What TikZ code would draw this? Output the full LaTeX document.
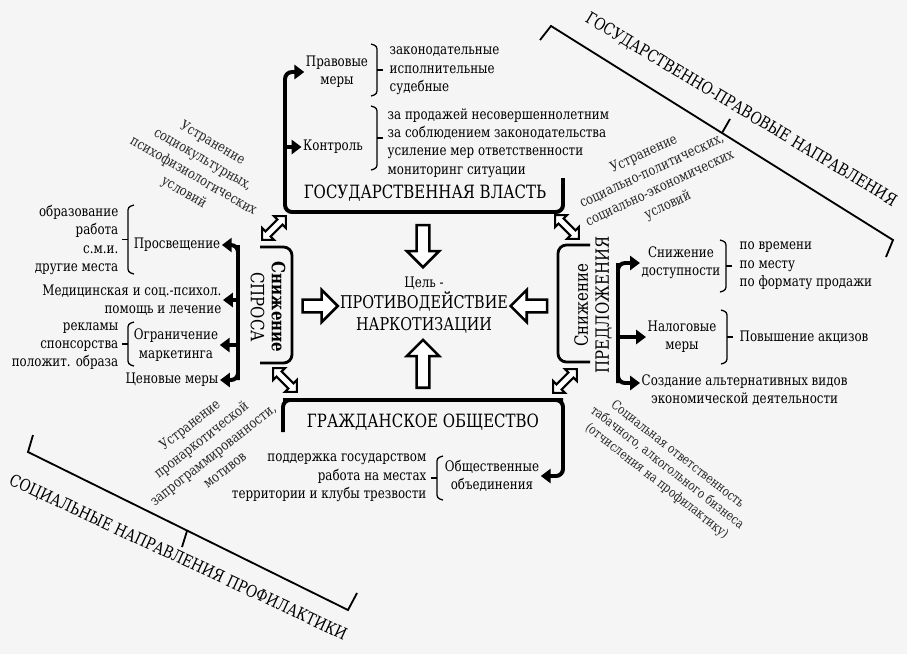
\documentclass[tikz,border=0pt]{standalone}
\usepackage{fontspec}
\setmainfont{DejaVu Serif}[FakeStretch=0.82]
\usetikzlibrary{arrows.meta,shapes.arrows}

\newcommand{\itemsz}{\fontsize{10.3}{13}\selectfont}
\newcommand{\diagsz}{\fontsize{10}{13.5}\selectfont}
\newcommand{\capsz}{\fontsize{13}{15}\selectfont}
\newcommand{\goalsz}{\fontsize{12.5}{15}\selectfont}
\newcommand{\titlesz}{\fontsize{11.8}{14}\selectfont}

% thin braces: x, top y, bottom y
\newcommand{\rbrk}[3]{%
  \draw[brk] (#1-6,#2) -- (#1,#2+2) -- (#1,#3-2) -- (#1-6,#3);
  \draw[brk] (#1,{(#2+#3)/2}) -- ++(6,0);}
\newcommand{\lbrk}[3]{%
  \draw[brk] (#1+6,#2) -- (#1,#2+2) -- (#1,#3-2) -- (#1+6,#3);
  \draw[brk] (#1,{(#2+#3)/2}) -- ++(-6,0);}

\begin{document}
\begin{tikzpicture}[x=0.025cm, y=-0.025cm,
    txt/.style={font=\itemsz, inner sep=1pt},
    capt/.style={font=\capsz, inner sep=1pt},
    diag/.style={font=\diagsz, align=center, inner sep=0pt, text=black!85},
    thk/.style={line width=2.8pt, rounded corners=5pt},
    thkarr/.style={line width=2.8pt, rounded corners=5pt, -{Triangle[length=7pt,width=10pt]}},
    brk/.style={line width=0.9pt, rounded corners=2pt},
    hbrk/.style={line width=2pt, rounded corners=6pt},
    bigbrk/.style={line width=1.3pt},
    blockarr/.style={single arrow, draw, fill=white, line width=1.8pt, inner sep=3.6pt,
      single arrow head extend=7pt},
    dblarr/.style={double arrow, draw, fill=white, line width=1.5pt, inner sep=1.8pt,
      double arrow head extend=3.5pt, minimum height=24pt}]
    \useasboundingbox[fill=black!4] (0,0) rectangle (907,654);

    % Goal
    \node[font=\goalsz, inner sep=1pt, align=center] (goal) at (424,305) {{\itemsz Цель -}\\ПРОТИВОДЕЙСТВИЕ\\НАРКОТИЗАЦИИ};

    % Four sides
    \node[capt] (gov) at (425,193) {ГОСУДАРСТВЕННАЯ ВЛАСТЬ};
    \node[capt] (civ) at (423,422) {ГРАЖДАНСКОЕ ОБЩЕСТВО};
    \node[capt, rotate=-90, align=center] (spros) at (268,307) {{\bfseries Снижение}\\СПРОСА};
    \node[capt, rotate=90, align=center] (pred) at (593,305) {Снижение\\ПРЕДЛОЖЕНИЯ};

    % Block arrows to the goal
    \node[blockarr, minimum height=30pt, rotate=-90] (aTop) at (423,243) {};
    \node[blockarr, minimum height=34pt, rotate=90] (aBot) at (423,367) {};
    \node[blockarr, minimum height=25pt] (aLeft) at (317,306) {};
    \node[blockarr, minimum height=26pt, rotate=180] (aRight) at (532,306) {};

    % Corner double arrows
    \node[dblarr, rotate=45] (dTL) at (274,228) {};
    \node[dblarr, rotate=-45] (dTR) at (567,227) {};
    \node[dblarr, rotate=-45] (dBL) at (285,380) {};
    \node[dblarr, rotate=45] (dBR) at (565,381) {};

    % State power
    \node[txt, align=center] (pravo) at (337,72) {Правовые\\меры};
    \node[txt] (kontrol) at (333,147) {Контроль};
    \rbrk{377}{44}{96}
    \rbrk{377}{106}{170}
    \node[txt, anchor=west, align=left] (pravoL) at (388,71) {законодательные\\исполнительные\\судебные};
    \node[txt, anchor=west, align=left] (kontrolL) at (386,143) {за продажей несовершеннолетним\\за соблюдением законодательства\\усиление мер ответственности\\мониторинг ситуации};
    \coordinate (gL) at (285,212);
    \coordinate (gR) at (563,212);
    \draw[thkarr] (563,178) -- (gR) -- (gL) -- (gL |- pravo) -- (pravo);
    \draw[thkarr] (gL |- kontrol) -- (kontrol);

    % Demand
    \draw[hbrk] (260,247) -- (292,247) -- (292,363) -- (260,363);
    \node[txt] (prosv) at (177,245) {Просвещение};
    \lbrk{128}{205}{274}
    \node[txt, anchor=east, align=right] (prosvL) at (120,240) {образование\\работа\\с.м.и.\\другие места};
    \node[txt, anchor=east, align=right] (med) at (223,300) {Медицинская и соц.-психол.\\помощь и лечение};
    \node[txt, align=center] (ogr) at (176,345) {Ограничение\\маркетинга};
    \lbrk{128}{322}{366}
    \node[txt, anchor=east, align=right] (ogrL) at (120,346) {рекламы\\спонсорства\\положит. образа};
    \node[txt] (cen) at (172,380) {Ценовые меры};
    \coordinate (sT) at (238,245);
    \coordinate (sB) at (238,380);
    \draw[thkarr] (sB) -- (sT) -- (prosv);
    \draw[thkarr] (sT) -- (sB) -- (cen);
    \foreach \n in {med, ogr}
        \draw[thkarr] (sT |- \n) -- (\n);

    % Supply
    \draw[hbrk] (590,245) -- (558,245) -- (558,362) -- (590,362);
    \node[txt, align=center] (dost) at (681,263) {Снижение\\доступности};
    \rbrk{726}{240}{292}
    \node[txt, anchor=west, align=left] (dostL) at (738,266) {по времени\\по месту\\по формату продажи};
    \node[txt, align=center] (nalog) at (682,337) {Налоговые\\меры};
    \rbrk{727}{310}{364}
    \node[txt, anchor=west] (akciz) at (738,337) {Повышение акцизов};
    \node[txt, anchor=west, align=center] (sozd) at (640,390) {Создание альтернативных видов\\экономической деятельности};
    \coordinate (pT) at (618,263);
    \coordinate (pB) at (618,383);
    \draw[thkarr] (pB) -- (pT) -- (dost);
    \draw[thkarr] (pT) -- (pB) -- (pB -| sozd.west);
    \draw[thkarr] (pT |- nalog) -- (nalog);

    % Civil society
    \node[txt, align=center] (obed) at (492,476) {Общественные\\объединения};
    \lbrk{437}{456}{500}
    \node[txt, anchor=east, align=right] (obedL) at (428,478) {поддержка государством\\работа на местах\\территории и клубы трезвости};
    \coordinate (cL) at (283,400);
    \coordinate (cR) at (563,400);
    \draw[thk] (283,432) -- (cL) -- (cR);
    \draw[thkarr] (cL) -- (cR) -- (cR |- obed) -- (obed);

    % Diagonal notes
    \node[diag, rotate=-30] (uTL) at (198,168) {Устранение\\социокультурных,\\психофизиологических\\условий};
    \node[diag, rotate=25] (uTR) at (656,180) {Устранение\\социально-политических,\\социально-экономических\\условий};
    \node[diag, rotate=38] (uBL) at (207,447) {Устранение\\пронаркотической\\запрограммированности,\\мотивов};
    \node[diag, rotate=-38, font=\fontsize{9.3}{12}\selectfont] (uBR) at (667,468) {Социальная ответственность\\табачного, алкогольного бизнеса\\(отчисления на профилактику)};

    % Big brackets
    \draw[bigbrk] (540,40) -- (551,26) -- (893,240) -- (886,257);
    \draw[bigbrk] (722,133) -- (730,119);
    \node[font=\titlesz, rotate=-31] (gpn) at (741,110) {ГОСУДАРСТВЕННО-ПРАВОВЫЕ НАПРАВЛЕНИЯ};
    \draw[bigbrk] (33,435) -- (28,452) -- (348,610) -- (357,593);
    \draw[bigbrk] (187,531) -- (182,547);
    \node[font=\titlesz, rotate=-25] (snp) at (178,558) {СОЦИАЛЬНЫЕ НАПРАВЛЕНИЯ ПРОФИЛАКТИКИ};
\end{tikzpicture}
\end{document}
